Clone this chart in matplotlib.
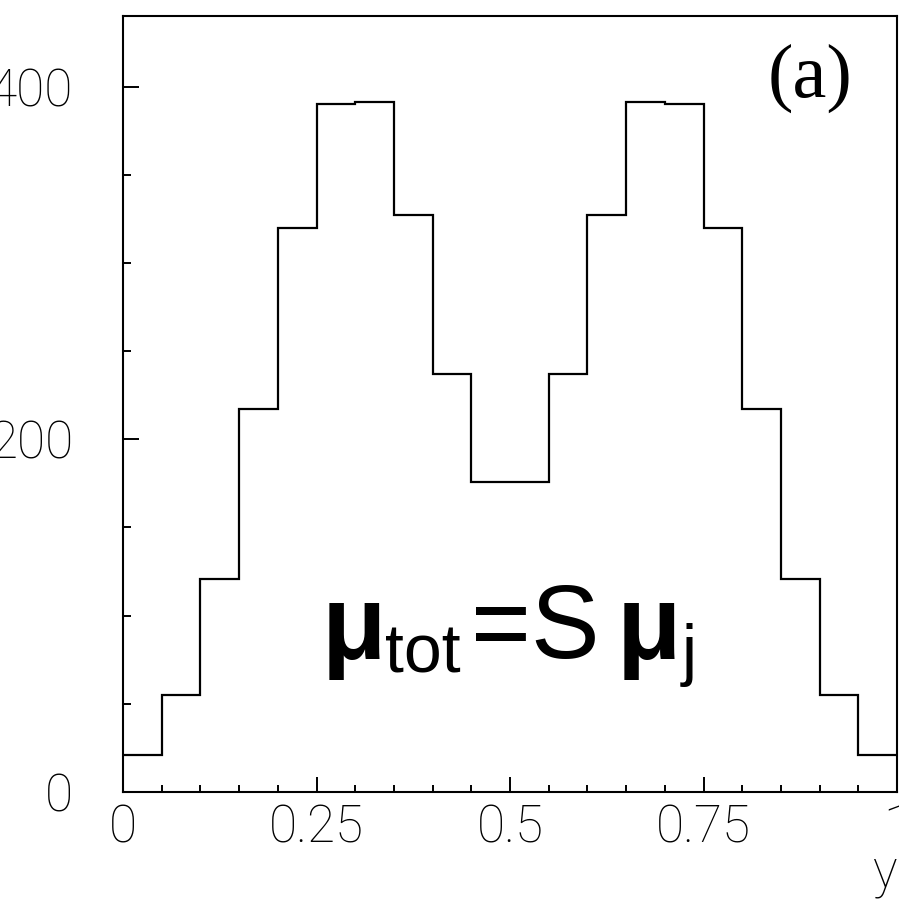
import matplotlib
matplotlib.use("Agg")
import matplotlib.pyplot as plt
from matplotlib.ticker import MultipleLocator, FixedLocator
import numpy as np

# histogram contents, 20 bins over 0..1
bin_edges = np.linspace(0.0, 1.0, 21)
counts = [21, 55, 121, 217, 320, 390, 391, 327, 237, 176,
          176, 237, 327, 391, 390, 320, 217, 121, 55, 21]

x_ticks = [0, 0.25, 0.5, 0.75, 1]
x_labels = ["0", "0.25", "0.5", "0.75", "1"]
y_ticks = [0, 200, 400]
y_labels = ["0", "200", "400"]

thin = dict(family=["Roboto", "Lato", "Open Sans", "DejaVu Sans"], weight=100)

fig = plt.figure(figsize=(8.99, 9.0), dpi=100)
ax = fig.add_axes([123 / 899, 108 / 900, 774 / 899, 776 / 900])

ax.stairs(counts, bin_edges, baseline=None, color="black", linewidth=1.6)

ax.set_xlim(0, 1)
ax.set_ylim(0, 440)

ax.xaxis.set_major_locator(FixedLocator(x_ticks))
ax.xaxis.set_minor_locator(MultipleLocator(0.05))
ax.yaxis.set_major_locator(FixedLocator(y_ticks))
ax.yaxis.set_minor_locator(MultipleLocator(50))
ax.set_xticklabels(x_labels, fontsize=37, **thin)
ax.set_yticklabels(y_labels, fontsize=37, **thin)

ax.tick_params(axis="x", which="major", direction="in", length=11, width=1.4, pad=8)
ax.tick_params(axis="x", which="minor", direction="in", length=5, width=1.4)
ax.tick_params(axis="y", which="major", direction="in", length=11.5, width=1.4, pad=36)
ax.tick_params(axis="y", which="minor", direction="in", length=6, width=1.4)
for s in ax.spines.values():
    s.set_linewidth(1.5)

ax.text(1.0, -0.1224, "y", transform=ax.transAxes, ha="right", va="baseline",
        fontsize=37, **thin)

# panel tag
ax.text(0.8876, 0.8956, "(a)", transform=ax.transAxes, ha="center", va="baseline",
        fontsize=55, family="Liberation Serif")

# formula, built piece by piece
sans = "Liberation Sans"
ax.text(0.2560, 0.1727, "\u03bc", transform=ax.transAxes, va="baseline",
        fontsize=76, family=sans, weight="bold")
ax.text(0.3384, 0.1534, "tot", transform=ax.transAxes, va="baseline",
        fontsize=49, family=sans)
ax.text(0.4500, 0.1727, "=S", transform=ax.transAxes, va="baseline",
        fontsize=74, family=sans)
ax.text(0.6380, 0.1727, "\u03bc", transform=ax.transAxes, va="baseline",
        fontsize=76, family=sans, weight="bold")
ax.text(0.7220, 0.1534, "j", transform=ax.transAxes, va="baseline",
        fontsize=49, family=sans)

fig.savefig("out.png", dpi=100)
